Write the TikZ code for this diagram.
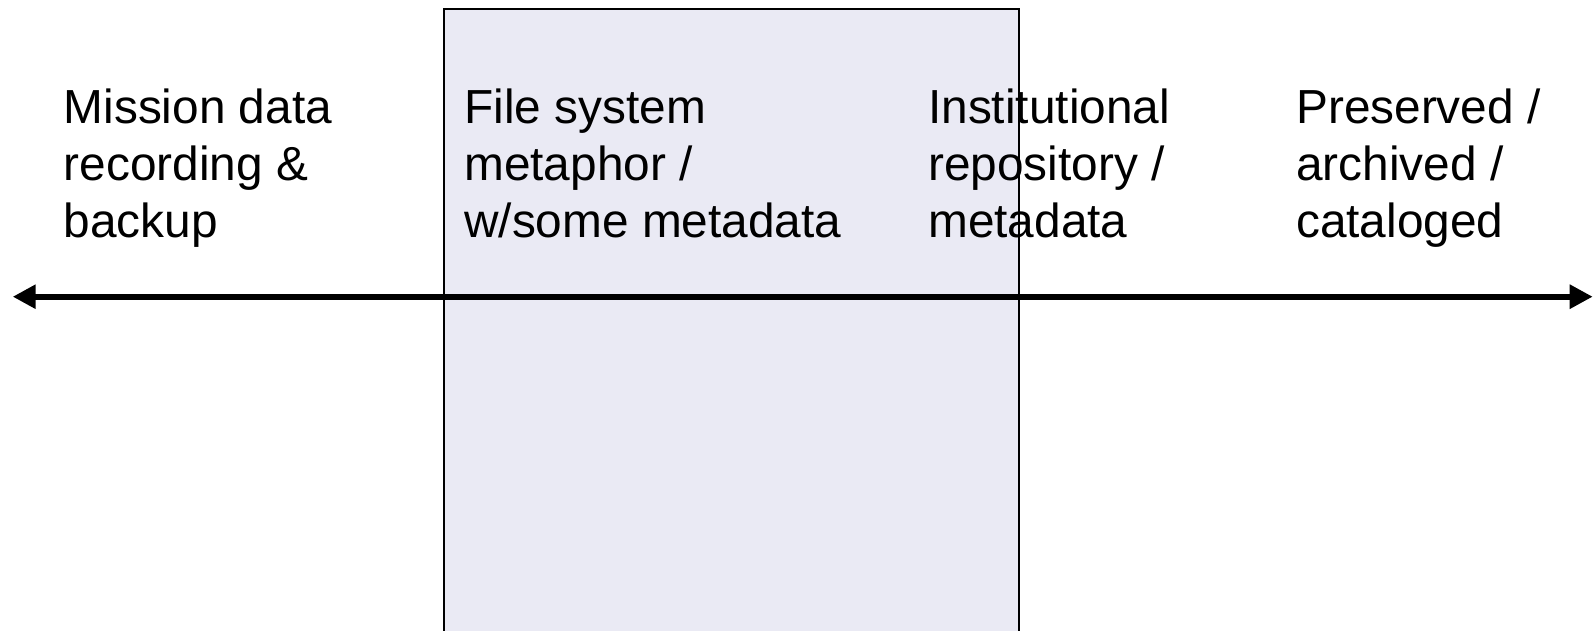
\documentclass[tikz,border=0pt]{standalone}
\usepackage{fontspec}
\setmainfont{Liberation Sans}
\usetikzlibrary{%
	arrows.meta%
}

\begin{document}
\begin{tikzpicture}[x=1pt, y=-1pt,
		stagetext/.style={anchor=base west, align=left, inner sep=0pt,
			font=\fontsize{47.8}{57}\selectfont}]
			
			\useasboundingbox (0,0) rectangle (1593,631);
			\clip (0,0) rectangle (1593,631);
			
			\draw[line width=2pt, fill={rgb,255:red,234;green,234;blue,244}] (444,9) rectangle (1019,650);
			
			\coordinate (leftend) at (12.7,296.7);
			\coordinate (rightend) at (1592.7,296.7);
			\draw[line width=6pt, {Triangle[length=23pt,width=23pt]}-{Triangle[length=23pt,width=23pt]}] (leftend) -- (rightend);
			
			\node[stagetext] (mission) at (63.5,237) {Mission data\\recording \&\\backup};
			\node[stagetext] (filesys) at (464,237) {File system\\metaphor /\\w/some metadata};
			\node[stagetext] (instrepo) at (928,237) {Institutional\\repository /\\metadata};
			\node[stagetext] (preserved) at (1296,237) {Preserved /\\archived /\\cataloged};
		\end{tikzpicture}
\end{document}
